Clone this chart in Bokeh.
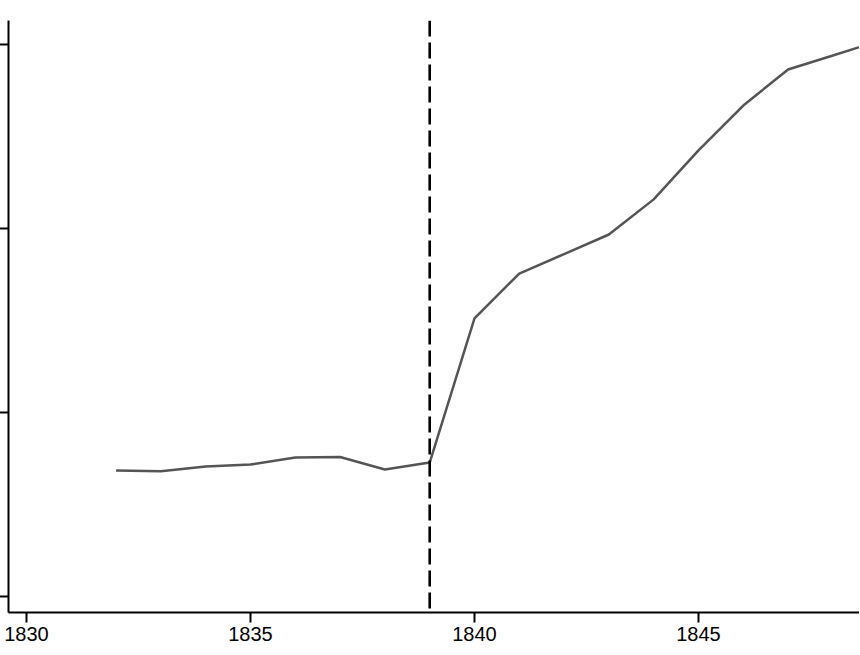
from bokeh.plotting import figure
from bokeh.models import Span, FixedTicker, Range1d
from bokeh.embed import file_html
from bokeh.resources import INLINE

# data (y axis labels are not shown in the reference)
years = [1832, 1833, 1834, 1835, 1836, 1837, 1838, 1839, 1840,
         1841, 1842, 1843, 1844, 1845, 1846, 1847, 1848, 1849]
values = [0.685, 0.681, 0.707, 0.717, 0.755, 0.758, 0.690, 0.728, 1.511,
          1.755, 1.861, 1.967, 2.158, 2.424, 2.668, 2.864, 2.940, 3.016]
event_year = 1839
x_ticks = [1830, 1835, 1840, 1845]
y_ticks = [0, 1, 2, 3]

p = figure(
    frame_width=851, frame_height=592,
    output_backend="svg", toolbar_location=None,
    x_range=Range1d(1829.598, 1848.594),
    y_range=Range1d(-0.087, 3.130),
    min_border_left=0, min_border_right=0, min_border_top=28, min_border_bottom=0,
)
p.styles = {"margin-left": "-1px", "margin-top": "-8px", "margin-bottom": "-8px"}
p.outline_line_color = None
p.xgrid.grid_line_color = None
p.ygrid.grid_line_color = None
p.background_fill_color = "white"
p.border_fill_color = "white"

p.line(years, values, line_color="#555555", line_width=2.5)

p.add_layout(Span(location=event_year, dimension="height", line_color="black",
                  line_width=2.6, line_dash="16 6"))

xa = p.xaxis[0]
xa.ticker = FixedTicker(ticks=x_ticks)
xa.axis_line_width = 2
xa.axis_line_color = "black"
xa.major_tick_line_width = 2
xa.major_tick_line_color = "black"
xa.major_tick_in = 0
xa.major_tick_out = 10
xa.minor_tick_line_color = None
xa.major_label_standoff = 4
xa.major_label_text_font = "Liberation Sans"
xa.major_label_text_font_size = "20px"
xa.major_label_text_color = "black"

ya = p.yaxis[0]
ya.ticker = FixedTicker(ticks=y_ticks)
ya.axis_line_width = 2
ya.axis_line_color = "black"
ya.major_tick_line_width = 2
ya.major_tick_line_color = "black"
ya.major_tick_in = 0
ya.major_tick_out = 9
ya.minor_tick_line_color = None
ya.major_label_standoff = 0
ya.major_label_text_font_size = "0px"
ya.major_label_overrides = {0: "", 1: "", 2: "", 3: ""}

open("out.html", "w").write(file_html(p, INLINE))
